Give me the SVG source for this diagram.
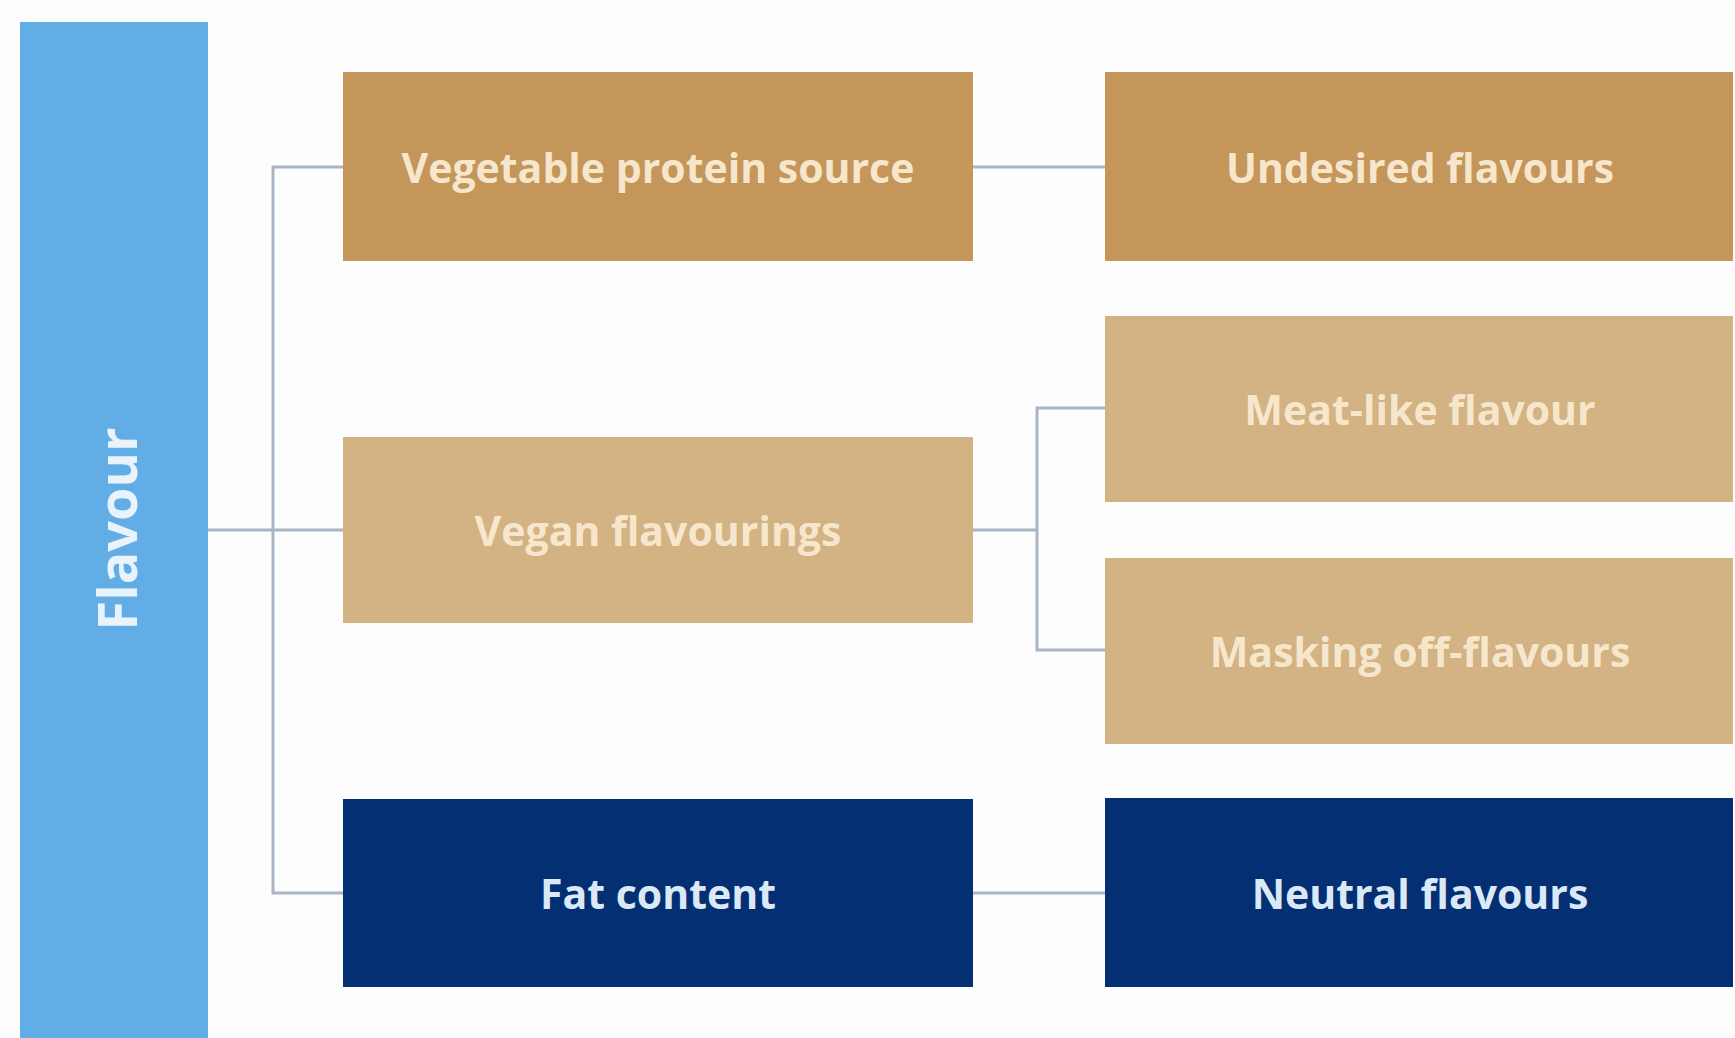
<svg xmlns="http://www.w3.org/2000/svg" width="1735" height="1038" viewBox="0 0 1735 1038">
<style>
.lbl{font-family:"Open Sans","Liberation Sans",sans-serif;font-weight:700;font-size:41px;text-anchor:middle;dominant-baseline:central}
.cream{fill:#f6e7cc}
.pale{fill:#dbe8f6}
.c1{fill:#c4965a}
.c2{fill:#d3b283}
.c3{fill:#052f73}
.conn{fill:none;stroke:#aab5c3;stroke-width:3}
</style>
<rect width="1735" height="1038" fill="#fdfdfd"/>
<g id="connectors">
<path class="conn" d="M208 530 H343"/>
<path class="conn" d="M343 167 H273 V893 H343"/>
<path class="conn" d="M973 167 H1105"/>
<path class="conn" d="M973 530 H1037"/>
<path class="conn" d="M1105 408 H1037 V650 H1105"/>
<path class="conn" d="M973 893 H1105"/>
</g>
<g id="flavour">
<rect x="20" y="22" width="188" height="1016" fill="#63ade6"/>
<text class="lbl" x="0" y="0" transform="translate(116 529) rotate(-90)" style="font-size:54px" fill="#e8f3fc">Flavour</text>
</g>
<g id="vegetable-protein-source">
<rect class="c1" x="343" y="72" width="630" height="189"/>
<text class="lbl cream" x="658" y="167">Vegetable protein source</text>
</g>
<g id="undesired-flavours">
<rect class="c1" x="1105" y="72" width="628" height="189"/>
<text class="lbl cream" x="1420" y="167">Undesired flavours</text>
</g>
<g id="meat-like-flavour">
<rect class="c2" x="1105" y="316" width="628" height="186"/>
<text class="lbl cream" x="1420" y="409">Meat-like flavour</text>
</g>
<g id="vegan-flavourings">
<rect class="c2" x="343" y="437" width="630" height="186"/>
<text class="lbl cream" x="658" y="530">Vegan flavourings</text>
</g>
<g id="masking-off-flavours">
<rect class="c2" x="1105" y="558" width="628" height="186"/>
<text class="lbl cream" x="1420" y="651">Masking off-flavours</text>
</g>
<g id="fat-content">
<rect class="c3" x="343" y="799" width="630" height="188"/>
<text class="lbl pale" x="658" y="893">Fat content</text>
</g>
<g id="neutral-flavours">
<rect class="c3" x="1105" y="798" width="628" height="189"/>
<text class="lbl pale" x="1420" y="893">Neutral flavours</text>
</g>
</svg>
